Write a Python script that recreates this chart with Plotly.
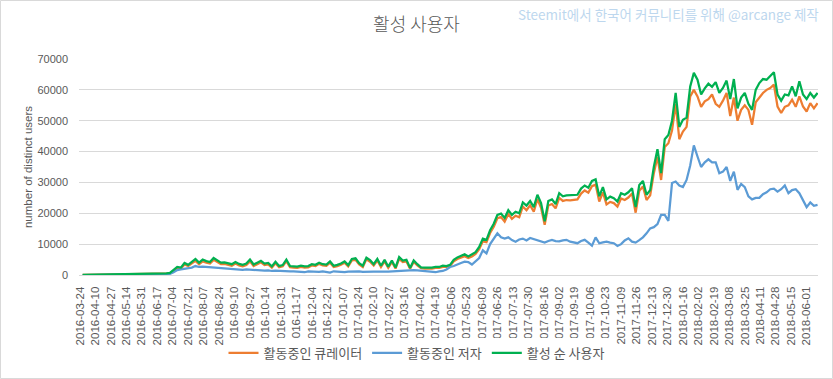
import pandas as pd
import plotly.graph_objects as go

start_date = "2016-03-27"

curators = [
    40, 50, 50, 70, 70, 80, 80, 100, 250, 270,
    250, 300, 280, 300, 330, 350, 330, 370, 400, 380,
    420, 450, 480, 500, 550, 1300, 2300, 2100, 3400, 2900,
    3800, 4600, 3500, 4400, 4000, 3700, 4900, 4100, 3500, 3600,
    3400, 3000, 3700, 3100, 2800, 3200, 4400, 2900, 3500, 4100,
    3200, 3400, 2400, 3800, 2500, 2800, 4500, 2500, 2400, 2300,
    2600, 2400, 2500, 3100, 2900, 3600, 3100, 3000, 4000, 2600,
    2900, 3300, 4000, 2800, 4700, 4900, 3400, 2600, 5100, 4300,
    3100, 4700, 2600, 4400, 2300, 4200, 2100, 5200, 4200, 4400,
    2000, 4200, 3100, 2200, 2100, 2000, 2100, 2300, 2300, 2600,
    2600, 2900, 4400, 5200, 5600, 6100, 5500, 6000, 6800, 8400,
    10900, 10600, 13600, 15600, 18400, 18800, 17300, 19800, 18200, 19200,
    18700, 22200, 21000, 22600, 20500, 24600, 21800, 16300, 22500, 23000,
    21600, 25000, 24000, 24300, 24200, 24400, 24500, 26400, 27400, 26700,
    28800, 29300, 23800, 26800, 22900, 23700, 23300, 22200, 24800, 24300,
    25100, 26400, 20200, 27300, 28700, 24300, 25800, 33000, 38300, 30800,
    41500, 42700, 46800, 55500, 44000, 46500, 48000, 57900, 60000, 57900,
    54500, 56300, 57000, 58500, 55500, 54500, 56500, 59000, 51500, 57500,
    50000, 53500, 55000, 53500, 48700, 56000, 57500, 59000, 60000, 60600,
    61700, 54600, 52500, 54500, 55000, 56800, 54500, 57900, 54600, 53000,
    55700, 54000, 55700,
]

authors = [
    0, 0, 0, 0, 0, 0, 0, 0, 150, 160,
    150, 180, 170, 180, 200, 210, 200, 220, 240, 230,
    250, 270, 290, 300, 400, 900, 1600, 1800, 2000, 2200,
    2400, 2900, 2600, 2700, 2600, 2500, 2600, 2400, 2200, 2300,
    2100, 2000, 2000, 1900, 1700, 1800, 1700, 1500, 1600, 1500,
    1400, 1500, 1300, 1400, 1300, 1200, 1300, 1200, 1200, 1100,
    1200, 900, 1200, 1100, 1200, 1000, 1200, 1100, 800, 1200,
    1100, 1200, 900, 1100, 1200, 1100, 1200, 1000, 1100, 1200,
    1100, 1100, 1200, 1100, 1100, 1200, 1100, 1200, 1300, 1500,
    1500, 1600, 1500, 1400, 1300, 1100, 1200, 900, 1200, 1300,
    1800, 2600, 2900, 3500, 3900, 4300, 4200, 3400, 4600, 5500,
    8000, 7000, 10000, 11800, 13500, 12200, 11800, 12200, 11300, 10800,
    11500, 11800, 11200, 12000, 11600, 11400, 11000, 10500, 11000, 11400,
    11000, 10900, 11200, 11400, 10800, 10600, 10300, 11000, 11400, 10500,
    9500, 12200, 10300, 10600, 10800, 10500, 10300, 9400, 10000, 11200,
    11900, 10800, 10500, 11300, 12200, 13500, 15100, 15500, 16500, 19500,
    19500, 17500, 29800, 30300, 29000, 28500, 30800, 35500, 42000, 38400,
    35000, 36500, 37500, 36500, 36500, 33000, 33500, 35000, 30500, 33500,
    27600, 29500, 28500, 25500, 24500, 25000, 25000, 26200, 26800, 27800,
    28000, 27000, 27800, 29000, 26500, 27500, 27800, 26500, 24200, 22000,
    23500, 22400, 22700,
]

unique_users = [
    50, 60, 60, 80, 80, 100, 100, 120, 300, 320,
    300, 350, 330, 350, 380, 400, 380, 420, 450, 430,
    470, 500, 520, 550, 650, 1500, 2600, 2400, 3900, 3300,
    4300, 5200, 4000, 5000, 4500, 4200, 5500, 4600, 4000, 4100,
    3900, 3500, 4200, 3600, 3300, 3700, 5000, 3400, 4000, 4600,
    3700, 3900, 2800, 4300, 2900, 3200, 5000, 2900, 2800, 2700,
    3000, 2800, 2900, 3500, 3300, 4000, 3500, 3400, 4400, 3000,
    3300, 3700, 4400, 3200, 5200, 5400, 3800, 3000, 5600, 4800,
    3500, 5200, 3000, 4900, 2700, 4700, 2400, 5800, 4700, 4900,
    2300, 4700, 3500, 2500, 2400, 2300, 2400, 2600, 2600, 3000,
    2900, 3300, 4900, 5700, 6200, 6700, 6000, 6600, 7400, 9100,
    11800, 11400, 14500, 16600, 19500, 19900, 18500, 21000, 19500, 20500,
    20000, 23500, 22500, 24000, 22000, 26000, 23300, 17400, 24000, 24500,
    23000, 26500, 25500, 25800, 25800, 26000, 26000, 28000, 29000, 28300,
    30500, 31000, 25500, 28500, 24500, 25400, 24900, 23800, 26500, 26000,
    26800, 28100, 22000, 29200, 30500, 26000, 27500, 35000, 40800, 33000,
    44000, 45400, 50000, 59000, 48000, 50300, 51000, 61100, 65500, 63300,
    58500, 60500, 62000, 61000, 62500, 59000, 60600, 63000, 57000, 63500,
    54000, 57500, 59000, 55500, 53500, 60000, 62200, 63500, 63300, 64500,
    65700, 58500, 56500, 58500, 58200, 61100, 57900, 62800, 58500, 57000,
    59000, 57500, 59000,
]

series_names = ["활동중인 큐레이터", "활동중인 저자", "활성 순 사용자"]
series_colors = ["#ED7D31", "#5B9BD5", "#00B050"]

tick_start = "2016-03-24"
tick_end = "2018-06-01"
tick_step_days = 17

dates = pd.date_range(start=start_date, periods=len(unique_users), freq="4D")
tick_dates = pd.date_range(start=tick_start, end=tick_end, freq=f"{tick_step_days}D")
tick_text = [d.strftime("%Y-%m-%d") for d in tick_dates]

KFONT = "Noto Sans CJK KR, Noto Sans, sans-serif"
LFONT = "Liberation Sans, Arial, sans-serif"
GREY = "#595959"

fig = go.Figure()
for name, ys, col in zip(series_names, [curators, authors, unique_users], series_colors):
    fig.add_trace(go.Scatter(
        x=dates, y=ys, name=name, mode="lines",
        line=dict(color=col, width=2.25),
    ))

W, H = 833, 379
ml, mr, mt, mb = 79, 15, 59, 104
pw, ph = W - ml - mr, H - mt - mb

fig.update_layout(
    width=W, height=H,
    margin=dict(l=ml, r=mr, t=mt, b=mb, autoexpand=False),
    paper_bgcolor="white", plot_bgcolor="white",
    font=dict(family=KFONT, color=GREY, size=11),
    title=dict(text="활성 사용자", x=0.5, xanchor="center", y=1 - 25 / H, yanchor="middle",
               font=dict(size=18, color=GREY, family=KFONT, weight=300)),
    showlegend=True,
    legend=dict(orientation="h", x=(W / 2 - ml) / pw, xanchor="center",
                y=(ph - (353 - mt)) / ph, yanchor="middle",
                font=dict(size=13, color=GREY, family=KFONT), itemwidth=30, traceorder="normal"),
    xaxis=dict(
        type="date", automargin=False,
        range=["2016-03-23", "2018-06-13 12:00"],
        tickmode="array", tickvals=tick_dates, ticktext=tick_text,
        tickangle=-90, tickfont=dict(size=11.5, color=GREY, family=LFONT),
        showgrid=False, showline=True, linecolor="#d9d9d9", linewidth=1,
        ticks="", ticklabelstandoff=6, zeroline=False,
    ),
    yaxis=dict(
        range=[0, 70000], dtick=10000, tickformat="d", automargin=False,
        showgrid=True, gridcolor="#d9d9d9", gridwidth=1,
        showline=False, zeroline=False, ticks="", ticklabelstandoff=10,
        tickfont=dict(size=11, color=GREY, family=LFONT),
        title=dict(text="number of distinct users", font=dict(size=11.5, color=GREY, family=LFONT), standoff=2),
    ),
    annotations=[dict(
        text="Steemit에서 한국어 커뮤니티를 위해 @arcange 제작",
        xref="paper", yref="paper", x=(821 - ml) / pw, y=(ph + (mt - 14)) / ph,
        xanchor="right", yanchor="middle", showarrow=False,
        font=dict(size=13.5, color="#BDD7EE", family=KFONT),
    )],
    shapes=[dict(
        type="rect", xref="paper", yref="paper",
        x0=(0.5 - ml) / pw, x1=(W - 0.5 - ml) / pw,
        y0=(ph - (H - 0.5 - mt)) / ph, y1=(ph + (mt - 0.5)) / ph,
        line=dict(color="#d9d9d9", width=1), fillcolor="rgba(0,0,0,0)", layer="below",
    )],
)

fig.write_html(
    "out.html",
    config={"displayModeBar": False},
    post_script="document.body.style.margin='0';document.body.style.overflow='hidden';",
)
